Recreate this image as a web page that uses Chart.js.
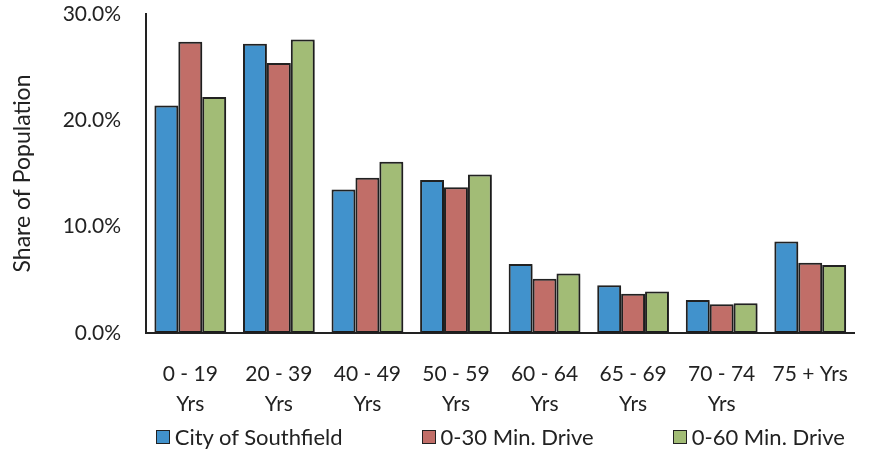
<!DOCTYPE html>
<html>
<head>
<meta charset="utf-8">
<script src="https://cdn.jsdelivr.net/npm/chart.js@4.4.1/dist/chart.umd.min.js"></script>
<style>
  html, body { margin: 0; padding: 0; background: #fff; }
  #wrap { position: relative; width: 874px; height: 456px; }
  #legend { position: absolute; top: 424px; left: 0; display: flex; gap: 79px;
            font-family: Lato, "Open Sans", sans-serif; font-size: 22px; color: #222;
            white-space: nowrap; line-height: 26px; }
  #legend .item { display: flex; align-items: center; }
  #legend .box { width: 12px; height: 12px; border: 1.5px solid #222; margin-right: 5px; }
</style>
</head>
<body>
<div id="wrap">
  <canvas id="c" width="874" height="456"></canvas>
  <div id="legend"></div>
</div>
<script>
// Age brackets (multi-line tick labels)
const categories = [
  ['0 - 19', 'Yrs'], ['20 - 39', 'Yrs'], ['40 - 49', 'Yrs'], ['50 - 59', 'Yrs'],
  ['60 - 64', 'Yrs'], ['65 - 69', 'Yrs'], ['70 - 74', 'Yrs'], '75 + Yrs'
];
const seriesNames = ['City of Southfield', '0-30 Min. Drive', '0-60 Min. Drive'];
// Share of population, percent
const southfield = [21.4, 27.2, 13.5, 14.4, 6.5, 4.5, 3.1, 8.6];
const drive30    = [27.4, 25.4, 14.6, 13.7, 5.1, 3.7, 2.7, 6.6];
const drive60    = [22.2, 27.6, 16.1, 14.9, 5.6, 3.9, 2.8, 6.4];
const yTicks = [0, 10, 20, 30];

const colors = ['#4192CC', '#C16E68', '#A2BC76'];
const edge = '#222222';
const font = 'Lato, "Open Sans", sans-serif';

// soft drop shadow under the bars
const barShadow = {
  id: 'barShadow',
  beforeDatasetsDraw(chart) {
    const ctx = chart.ctx;
    ctx.save();
    ctx.shadowColor = 'rgba(0,0,0,0.30)';
    ctx.shadowBlur = 2;
    ctx.shadowOffsetX = 1;
    ctx.shadowOffsetY = 1;
  },
  afterDatasetsDraw(chart) { chart.ctx.restore(); }
};

// HTML legend built from the chart's own legend items
const htmlLegend = {
  id: 'htmlLegend',
  afterUpdate(chart) {
    const el = document.getElementById('legend');
    el.innerHTML = '';
    chart.options.plugins.legend.labels.generateLabels(chart).forEach(it => {
      const item = document.createElement('div');
      item.className = 'item';
      const box = document.createElement('span');
      box.className = 'box';
      box.style.background = it.fillStyle;
      const txt = document.createElement('span');
      txt.textContent = it.text;
      item.appendChild(box);
      item.appendChild(txt);
      el.appendChild(item);
    });
    const a = chart.chartArea;
    const mid = (a.left + a.right) / 2;
    el.style.left = (mid - el.offsetWidth / 2) + 'px';
  }
};

const datasets = [southfield, drive30, drive60].map((d, i) => ({
  label: seriesNames[i],
  data: d,
  backgroundColor: colors[i],
  borderColor: edge,
  borderWidth: 2,
  borderSkipped: false
}));

new Chart(document.getElementById('c'), {
  type: 'bar',
  data: { labels: categories, datasets },
  plugins: [barShadow, htmlLegend],
  options: {
    responsive: false,
    animation: false,
    layout: { padding: { top: 14, right: 2, bottom: 40, left: 9 } },
    datasets: { bar: { categoryPercentage: 0.81, barPercentage: 1.0 } },
    plugins: {
      legend: { display: false },
      tooltip: { enabled: false }
    },
    scales: {
      x: {
        grid: { display: false, drawTicks: false },
        border: { display: true, color: edge, width: 2 },
        ticks: {
          color: '#222', padding: 26, maxRotation: 0, autoSkip: false,
          font: { family: font, size: 21, lineHeight: 1.45 }
        },
        afterFit(scale) { scale.height = 83; scale.paddingTop = 0; scale.paddingBottom = 0; }
      },
      y: {
        min: 0, max: 30,
        afterBuildTicks(scale) { scale.ticks = yTicks.map(v => ({ value: v })); },
        grid: { display: false, drawTicks: false },
        border: { display: true, color: edge, width: 2 },
        ticks: {
          color: '#222', padding: 25,
          font: { family: font, size: 21 },
          callback: v => v.toFixed(1) + '%'
        },
        title: {
          display: true, text: 'Share of Population', color: '#222',
          font: { family: font, size: 23 }, padding: { top: 0, bottom: 1 }
        },
        afterFit(scale) { scale.width = 137; scale.paddingTop = 0; scale.paddingBottom = 0; }
      }
    }
  }
});
</script>
</body>
</html>
